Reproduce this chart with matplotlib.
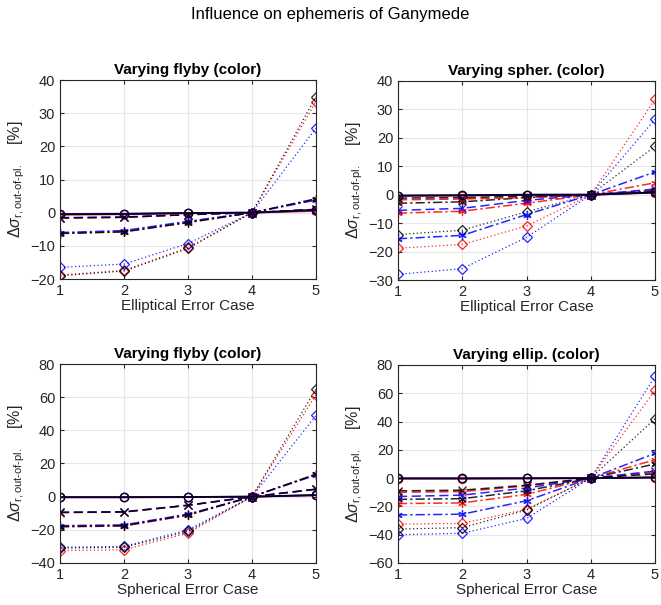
import numpy as np
import matplotlib
matplotlib.use("Agg")
import matplotlib.pyplot as plt

plt.rcParams['font.family'] = ['Liberation Sans', 'DejaVu Sans']
plt.rcParams['mathtext.fontset'] = 'custom'
plt.rcParams['mathtext.rm'] = 'Liberation Sans'
plt.rcParams['mathtext.it'] = 'Liberation Sans:italic'

cases = [1, 2, 3, 4, 5]
colors = ['k', 'b', 'r']   # order of rows in every array below

# top left: elliptical error case, varying flyby
tl_solid = [[-0.5, -0.4, -0.1, 0, 0.9], [-0.4, -0.3, -0.1, 0, 0.7], [-0.6, -0.5, -0.2, 0, 0.5]]
tl_dash = [[-1.6, -1.4, -0.6, 0, 1.0], [-1.5, -1.3, -0.6, 0, 0.9], [-1.6, -1.4, -0.6, 0, 1.0]]
tl_dashdot = [[-6.3, -5.8, -3.0, 0, 4.2], [-6.0, -5.4, -2.6, 0, 3.8], [-6.2, -5.7, -2.9, 0, 4.0]]
tl_dot = [[-19.0, -17.6, -10.8, 0, 35.0], [-16.5, -15.5, -9.3, 0, 25.5], [-18.8, -17.4, -10.5, 0, 33.5]]

# top right: elliptical error case, varying spher.
tr_solid = [[-0.3, -0.2, 0.0, 0, 0.8], [-0.3, -0.2, 0.0, 0, 0.8], [-0.4, -0.3, -0.1, 0, 0.7]]
tr_dash = [[-1.2, -1.0, -0.5, 0, 1.0], [-5.5, -4.8, -2.0, 0, 2.0], [-1.8, -1.5, -1.0, 0, 1.3]]
tr_dashdot = [[-3.0, -2.5, -1.0, 0, 1.5], [-15.5, -14.3, -7.0, 0, 8.0], [-6.5, -5.8, -3.0, 0, 4.2]]
tr_dot = [[-14.0, -12.5, -6.0, 0, 17.0], [-28.0, -26.0, -15.0, 0, 26.5], [-18.8, -17.5, -11.0, 0, 33.5]]

# bottom left: spherical error case, varying flyby
bl_solid = [[-0.3, -0.3, -0.2, 0, 1.0], [-0.3, -0.3, -0.2, 0, 0.9], [-0.4, -0.4, -0.3, 0, 0.8]]
bl_dash = [[-9.5, -9.2, -5.2, 0, 4.5], [-9.4, -9.1, -5.1, 0, 4.4], [-9.6, -9.3, -5.3, 0, 4.6]]
bl_dashdot = [[-18.0, -17.5, -11.0, 0, 13.5], [-17.5, -17.0, -10.5, 0, 13.0], [-18.2, -17.7, -11.2, 0, 13.6]]
bl_dot = [[-31.0, -30.5, -21.0, 0, 65.0], [-30.5, -30.0, -20.0, 0, 49.0], [-32.5, -32.0, -22.0, 0, 61.5]]

# bottom right: spherical error case, varying ellip.
br_solid = [[-0.2, -0.2, -0.1, 0, 0.5], [-0.2, -0.2, -0.1, 0, 0.5], [-0.3, -0.3, -0.2, 0, 0.4]]
br_dash = [[-9.0, -8.5, -5.0, 0, 3.0], [-13.0, -12.0, -7.0, 0, 5.0], [-10.0, -9.5, -5.5, 0, 4.0]]
br_dashdot = [[-15.0, -14.5, -9.0, 0, 10.0], [-26.0, -25.5, -16.0, 0, 17.5], [-18.0, -17.5, -11.5, 0, 13.0]]
br_dot = [[-36.0, -35.0, -22.5, 0, 42.0], [-40.0, -39.0, -28.5, 0, 72.0], [-32.5, -32.0, -22.0, 0, 62.0]]

titles = ['Varying flyby (color)', 'Varying spher. (color)', 'Varying flyby (color)', 'Varying ellip. (color)']
xlabels = ['Elliptical Error Case', 'Elliptical Error Case', 'Spherical Error Case', 'Spherical Error Case']
ylims = [(-20, 40), (-30, 40), (-40, 80), (-60, 80)]
yticks = [np.arange(-20, 41, 10), np.arange(-30, 41, 10), np.arange(-40, 81, 20), np.arange(-60, 81, 20)]
panels = [(tl_solid, tl_dash, tl_dashdot, tl_dot),
          (tr_solid, tr_dash, tr_dashdot, tr_dot),
          (bl_solid, bl_dash, bl_dashdot, bl_dot),
          (br_solid, br_dash, br_dashdot, br_dot)]

asterisk = (6, 2, 0)
styles = [('-', 'o', 1.3), ((0, (6, 3)), 'x', 1.1), ((0, (6, 2, 1.5, 2)), asterisk, 1.1), ((0, (1, 2)), 'D', 0.9)]

fig = plt.figure(figsize=(6.61, 6.05), dpi=100)
W, H = 661.0, 605.0
boxes = [(60, 80, 316, 279), (398, 81, 655, 280), (60, 364, 316, 563), (398, 365, 655, 563)]

for p in range(4):
    l, t, r, b = boxes[p]
    ax = fig.add_axes([l / W, 1 - b / H, (r - l) / W, (b - t) / H])
    for s in [3, 2, 1, 0]:
        ls, mk, lw = styles[s]
        data = panels[p][s]
        for c in [2, 1, 0]:
            ms = 5 if mk == 'D' else 6
            ax.plot(cases, data[c], color=colors[c], linestyle=ls, linewidth=lw, alpha=0.85,
                    marker=mk, markersize=ms, markerfacecolor='none',
                    markeredgecolor=colors[c], markeredgewidth=0.9)
    ax.set_xlim(1, 5)
    ax.set_ylim(*ylims[p])
    ax.set_xticks(cases)
    ax.set_yticks(yticks[p])
    ax.grid(True, color='#e6e6e6', linewidth=0.8)
    ax.set_axisbelow(True)
    ax.tick_params(direction='in', labelsize=10.5, colors='#262626', length=3, top=True, right=True)
    for sp in ax.spines.values():
        sp.set_color('#262626')
        sp.set_linewidth(0.8)
    ax.set_title(titles[p], fontsize=11, fontweight='bold', pad=4)
    ax.set_xlabel(xlabels[p], fontsize=11, color='#262626', labelpad=1)
    ax.set_ylabel(r'$\Delta\sigma_{\mathrm{r,out\text{-}of\text{-}pl.}}$    [%]', fontsize=11.5,
                  color='#262626', labelpad=2)

fig.text(0.5, 1 - 15 / H, 'Influence on ephemeris of Ganymede', ha='center', va='center', fontsize=12)

fig.savefig('out.png', dpi=100)
